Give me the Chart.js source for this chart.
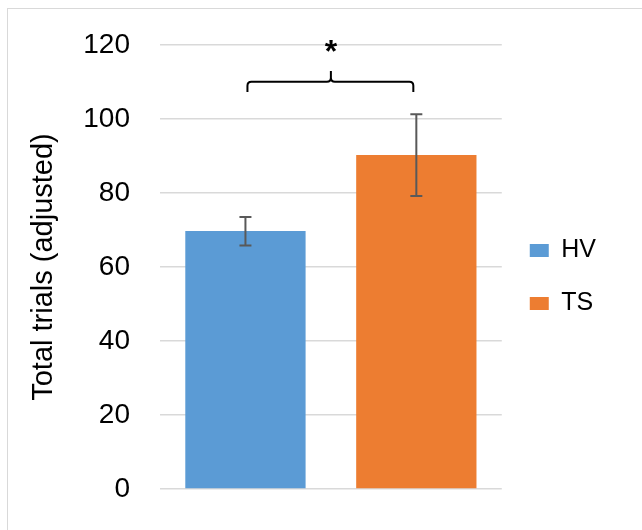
<!DOCTYPE html>
<html lang="en">
<head>
    <meta charset="UTF-8">
    <title>Total trials (adjusted)</title>
    <style>
        body {
            margin: 0;
            background: #fff;
            font-family: "Liberation Sans", Arial, sans-serif;
        }
        #wrap {
            position: relative;
            width: 642px;
            height: 530px;
        }
        #frame {
            position: absolute;
            left: 7px;
            top: 8px;
            width: 700px;
            height: 600px;
            border-left: 1px solid #d9d9d9;
            border-top: 1px solid #d9d9d9;
        }
        canvas {
            position: relative;
        }
    </style>
</head>
<body>
    <div id="wrap">
        <div id="frame"></div>
        <canvas id="trialsChart"></canvas>
    </div>

    <script src="https://cdn.jsdelivr.net/npm/chart.js"></script>
    <script>
        // values
        const seriesNames = ['HV', 'TS'];
        const meanValues = [69.7, 90.3];
        const errorLow = [65.8, 79.2];
        const errorHigh = [73.5, 101.3];
        const seriesColors = ['#5B9BD5', '#ED7D31'];
        const yMin = 0, yMax = 120, yStep = 20;

        // significance bracket (y values)
        const bracketEnd = 107.3;
        const bracketLine = 110.1;
        const bracketTip = 113;
        const starLevel = 120.4;

        const errorBars = {
            id: 'errorBars',
            afterDatasetsDraw(chart) {
                const ctx = chart.ctx;
                const y = chart.scales.y;
                ctx.save();
                ctx.strokeStyle = '#595959';
                ctx.lineWidth = 2;
                chart.data.datasets.forEach((ds, i) => {
                    const bar = chart.getDatasetMeta(i).data[0];
                    const top = y.getPixelForValue(errorHigh[i]);
                    const bot = y.getPixelForValue(errorLow[i]);
                    ctx.beginPath();
                    ctx.moveTo(bar.x, top);
                    ctx.lineTo(bar.x, bot);
                    ctx.moveTo(bar.x - 6, top);
                    ctx.lineTo(bar.x + 6, top);
                    ctx.moveTo(bar.x - 6, bot);
                    ctx.lineTo(bar.x + 6, bot);
                    ctx.stroke();
                });
                ctx.restore();
            }
        };

        const bracket = {
            id: 'bracket',
            afterDatasetsDraw(chart) {
                const ctx = chart.ctx;
                const y = chart.scales.y;
                const a = chart.getDatasetMeta(0).data[0];
                const b = chart.getDatasetMeta(1).data[0];
                const x0 = a.x + 2, x1 = b.x - 3, xm = (a.x + b.x) / 2;
                const yEnd = y.getPixelForValue(bracketEnd);
                const yB = y.getPixelForValue(bracketLine);
                const yTip = y.getPixelForValue(bracketTip);
                const r = 4;
                ctx.save();
                ctx.strokeStyle = '#000';
                ctx.lineWidth = 2;
                ctx.beginPath();
                ctx.moveTo(x0, yEnd);
                ctx.lineTo(x0, yB + r);
                ctx.quadraticCurveTo(x0, yB, x0 + r, yB);
                ctx.lineTo(xm - r, yB);
                ctx.quadraticCurveTo(xm, yB, xm, yB - r);
                ctx.lineTo(xm, yTip);
                ctx.moveTo(xm, yB - r);
                ctx.quadraticCurveTo(xm, yB, xm + r, yB);
                ctx.lineTo(x1 - r, yB);
                ctx.quadraticCurveTo(x1, yB, x1, yB + r);
                ctx.lineTo(x1, yEnd);
                ctx.stroke();

                ctx.fillStyle = '#000';
                ctx.font = 'bold 32px "Liberation Sans", Arial, sans-serif';
                ctx.textAlign = 'center';
                ctx.textBaseline = 'alphabetic';
                ctx.fillText('*', xm, y.getPixelForValue(starLevel) + 18);
                ctx.restore();
            }
        };

        const datasets = seriesNames.map((name, i) => ({
            label: name,
            data: [meanValues[i]],
            backgroundColor: seriesColors[i],
            borderWidth: 0
        }));

        new Chart(document.getElementById('trialsChart'), {
            type: 'bar',
            data: {
                labels: [''],
                datasets: datasets
            },
            options: {
                responsive: true,
                maintainAspectRatio: false,
                animation: false,
                categoryPercentage: 1,
                barPercentage: 0.704,
                layout: {
                    padding: { left: 27, top: 45, right: 36, bottom: 21 }
                },
                plugins: {
                    tooltip: { enabled: false },
                    legend: {
                        position: 'right',
                        labels: {
                            boxWidth: 19,
                            boxHeight: 13,
                            padding: 28,
                            color: '#000',
                            font: { family: '"Liberation Sans", Arial, sans-serif', size: 25 }
                        }
                    }
                },
                scales: {
                    x: {
                        ticks: { display: false },
                        grid: { display: false },
                        border: { display: false },
                        afterFit(scale) { scale.height = 20; }
                    },
                    y: {
                        min: yMin,
                        max: yMax,
                        ticks: {
                            stepSize: yStep,
                            padding: 30,
                            color: '#000',
                            font: { family: '"Liberation Sans", Arial, sans-serif', size: 28 }
                        },
                        grid: {
                            color: '#d9d9d9',
                            lineWidth: 1.5,
                            drawTicks: false
                        },
                        border: { display: false },
                        title: {
                            display: true,
                            text: 'Total trials (adjusted)',
                            color: '#000',
                            padding: 0,
                            font: { family: '"Liberation Sans", Arial, sans-serif', size: 29 }
                        },
                        afterFit(scale) {
                            scale.width = 133;
                            scale.paddingTop = 0;
                            scale.paddingBottom = 0;
                        }
                    }
                }
            },
            plugins: [errorBars, bracket]
        });
    </script>
</body>
</html>
